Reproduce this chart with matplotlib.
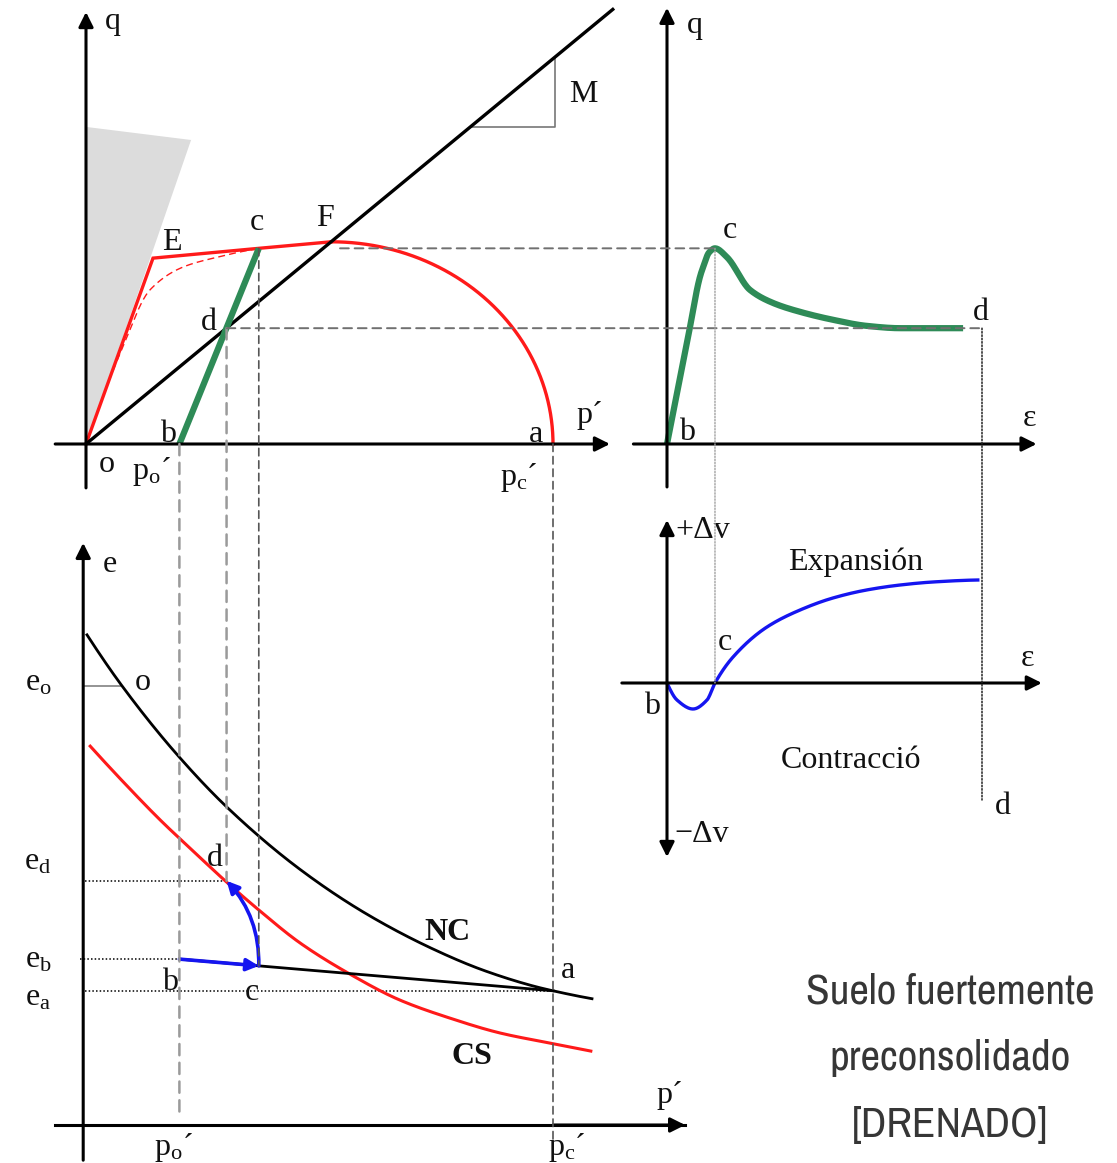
import os
import numpy as np
import matplotlib
matplotlib.use("Agg")
import matplotlib.pyplot as plt
from matplotlib.patches import Polygon, FancyArrowPatch, ConnectionPatch
from matplotlib import font_manager

# ---------------- data ----------------
# q - p' plane
M_csl = 0.825                      # slope of the critical state line
p_csl_end = 112.8
wedge_p = [0.0, 0.0, 22.5]         # tension cut-off zone
wedge_q = [0.0, 67.9, 65.1]
path_p = [0.0, 14.35, 37.0, 52.5]  # o -> E -> c -> F (Hvorslev + tension limit)
path_q = [0.0, 39.8, 41.9, 43.3]
ell_center, ell_a, ell_b = 52.5, 47.5, 43.3   # yield ellipse, ends at p'c
dash_p = [0.0, 7.6, 13.7, 20.8, 28.1, 37.0]   # dashed red curve o -> c
dash_q = [0.0, 20.1, 33.0, 37.9, 40.0, 41.9]
p_o, p_c = 20.0, 100.0
p_cpt, q_cpt = 37.0, 41.9          # peak point c
p_d, q_d = 30.1, 24.8              # critical state point d
tri_p = [82.2, 100.4]              # slope triangle for M

# q - strain plane
eps_q = [0.0, 2.0, 3.14, 3.46, 4.0, 4.57, 5.71, 7.9, 10.1, 12.67, 15.8, 19.0, 22.2, 28.2]
q_eps = [0.0, 22.8, 35.8, 38.0, 41.0, 41.9, 40.0, 33.0, 30.2, 28.3, 26.6, 25.3, 24.8, 24.8]
eps_c, eps_d = 4.57, 30.0

# volume change - strain plane
eps_v = [0.0, 0.95, 2.48, 3.81, 4.57, 6.29, 9.52, 12.67, 15.8, 19.0, 22.2, 25.3, 29.6]
dv = [0.0, -1.7, -2.6, -1.7, 0.0, 2.6, 5.6, 7.3, 8.5, 9.3, 9.8, 10.1, 10.3]

# e - p' plane
nc_p = [0.21, 7.71, 19.49, 30.41, 45.82, 60.17, 74.30, 85.01, 95.72, 100.0, 108.35]
nc_e = [1.114, 0.998, 0.842, 0.720, 0.581, 0.479, 0.400, 0.352, 0.316, 0.305, 0.287]
cs_p = [0.9, 8.4, 16.1, 22.9, 29.8, 37.3, 45.8, 56.5, 67.2, 77.9, 88.7, 99.4, 108.1]
cs_e = [0.861, 0.775, 0.691, 0.623, 0.555, 0.486, 0.414, 0.343, 0.284, 0.243, 0.209, 0.186, 0.168]
e_o, e_d, e_b, e_a = 0.998, 0.555, 0.377, 0.305
p_eo = 7.7

# ---------------- styling ----------------
RED = "#ff1a1a"
GREEN = "#2e8b57"
BLUE = "#1515f0"
SERIF = "Liberation Serif"
FS = 23

plt.rcParams["font.family"] = [SERIF, "DejaVu Serif"]
plt.rcParams["mathtext.fontset"] = "custom"
plt.rcParams["mathtext.rm"] = SERIF
plt.rcParams["mathtext.it"] = SERIF + ":italic"


def pchip(x, y, n=400):
    """Monotone piecewise cubic curve through the given points."""
    x = np.asarray(x, float)
    y = np.asarray(y, float)
    h = np.diff(x)
    d = np.diff(y) / h
    m = np.zeros_like(y)
    for k in range(1, len(x) - 1):
        if d[k - 1] * d[k] > 0:
            w1 = 2 * h[k] + h[k - 1]
            w2 = h[k] + 2 * h[k - 1]
            m[k] = (w1 + w2) / (w1 / d[k - 1] + w2 / d[k])

    def end(h0, h1, d0, d1):
        mm = ((2 * h0 + h1) * d0 - h0 * d1) / (h0 + h1)
        if np.sign(mm) != np.sign(d0):
            mm = 0.0
        elif np.sign(d0) != np.sign(d1) and abs(mm) > abs(3 * d0):
            mm = 3 * d0
        return mm

    m[0] = end(h[0], h[1], d[0], d[1])
    m[-1] = end(h[-1], h[-2], d[-1], d[-2])
    xs = np.linspace(x[0], x[-1], n)
    i = np.clip(np.searchsorted(x, xs) - 1, 0, len(h) - 1)
    t = (xs - x[i]) / h[i]
    ys = ((2 * t ** 3 - 3 * t ** 2 + 1) * y[i] + (t ** 3 - 2 * t ** 2 + t) * h[i] * m[i]
          + (-2 * t ** 3 + 3 * t ** 2) * y[i + 1] + (t ** 3 - t ** 2) * h[i] * m[i + 1])
    return xs, ys


W, H = 1117, 1163
fig = plt.figure(figsize=(W / 100, H / 100), dpi=100)


def panel(ox, sx, oy, sy):
    """Full-figure transparent axes whose origin sits at pixel (ox, oy)."""
    ax = fig.add_axes([0, 0, 1, 1])
    ax.set_xlim(-ox / sx, (W - ox) / sx)
    ax.set_ylim((oy - H) / sy, oy / sy)
    ax.axis("off")
    ax.patch.set_alpha(0)
    return ax


ax_qp = panel(86, 4.67, 444, 4.67)
ax_ep = panel(86, 4.67, 1125, 440)
ax_qe = panel(667, 10.5, 444, 4.67)
ax_ve = panel(667, 10.5, 683, 10)


def axis_arrow(ax, start, end, both=False):
    ax.add_patch(FancyArrowPatch(start, end, arrowstyle="<|-|>" if both else "-|>",
                                 mutation_scale=22, lw=2.2, color="k",
                                 shrinkA=0, shrinkB=0, zorder=5))


# ---- q - p' ----
ax_qp.add_patch(Polygon(np.column_stack([wedge_p, wedge_q]), closed=True,
                        facecolor="#dcdcdc", edgecolor="none", zorder=0))
axis_arrow(ax_qp, (0, -9.4), (0, 92.5))
axis_arrow(ax_qp, (-6.6, 0), (112.2, 0))
ax_qp.plot([0, p_csl_end], [0, M_csl * p_csl_end], color="k", lw=2.4, zorder=4)
ax_qp.plot([tri_p[0], tri_p[1], tri_p[1]],
           [M_csl * tri_p[0], M_csl * tri_p[0], M_csl * tri_p[1]],
           color="#777777", lw=1.2, zorder=3)
t = np.linspace(np.pi / 2, 0, 200)
ax_qp.plot(path_p, path_q, color=RED, lw=2.4, zorder=3, solid_joinstyle="miter")
ax_qp.plot(ell_center + ell_a * np.cos(t), ell_b * np.sin(t), color=RED, lw=2.4, zorder=3)
dx, dy = pchip(dash_p, dash_q)
ax_qp.plot(dx, dy, color=RED, lw=1.0, ls=(0, (5, 3)), zorder=3)
ax_qp.plot([p_o, p_cpt], [0, q_cpt], color=GREEN, lw=4.5, zorder=4,
           solid_capstyle="butt")

# ---- q - strain ----
axis_arrow(ax_qe, (0, -9.2), (0, 93.4))
axis_arrow(ax_qe, (-3.2, 0), (35.2, 0))
gx, gy = pchip(eps_q, q_eps)
ax_qe.plot(gx, gy, color=GREEN, lw=4.5, zorder=4, solid_capstyle="butt")

# ---- volume change - strain ----
axis_arrow(ax_ve, (0, -17.4), (0, 16.3), both=True)
axis_arrow(ax_ve, (-4.3, 0), (35.7, 0))
bx, by = pchip(eps_v, dv)
ax_ve.plot(bx, by, color=BLUE, lw=2.4, zorder=4)

# ---- e - p' ----
axis_arrow(ax_ep, (-0.6, -0.08), (-0.6, 1.323))
ax_ep.plot([-6.6, 128.3], [0, 0], color="k", lw=2.2, zorder=5)
axis_arrow(ax_ep, (100, 0), (128.3, 0))
nx, ny = pchip(nc_p, nc_e)
ax_ep.plot(nx, ny, color="k", lw=2.0, zorder=4)
cx, cy = pchip(cs_p, cs_e)
ax_ep.plot(cx, cy, color=RED, lw=2.2, zorder=4)
ax_ep.plot([p_o, p_c], [e_b, e_a], color="k", lw=2.0, zorder=4)
e_cpt = e_b + (p_cpt - p_o) / (p_c - p_o) * (e_a - e_b)
ax_ep.plot([-0.6, p_eo], [e_o, e_o], color="#777777", lw=1.1, zorder=3)
dot = (0, (1, 1.4))
ax_ep.plot([-0.3, p_d], [e_d, e_d], color="k", lw=1.1, ls=dot, zorder=3)
ax_ep.plot([-1.3, p_o], [e_b, e_b], color="k", lw=1.1, ls=dot, zorder=3)
ax_ep.plot([-0.3, p_c], [e_a, e_a], color="k", lw=1.1, ls=dot, zorder=3)
ax_ep.add_patch(FancyArrowPatch((p_o, e_b), (p_cpt, e_cpt), arrowstyle="-|>",
                                mutation_scale=18, lw=2.6, color=BLUE,
                                shrinkA=0, shrinkB=0, zorder=6))
ax_ep.add_patch(FancyArrowPatch((p_cpt, e_cpt), (p_d, e_d), arrowstyle="-|>",
                                connectionstyle="arc3,rad=0.2",
                                mutation_scale=18, lw=2.6, color=BLUE,
                                shrinkA=0, shrinkB=0, zorder=6))


# ---- projection lines between panels ----
def link(axA, xyA, axB, xyB, color, lw, ls):
    cp = ConnectionPatch(xyA=xyA, coordsA=axA.transData, xyB=xyB, coordsB=axB.transData,
                         color=color, lw=lw, linestyle=ls, zorder=2)
    fig.add_artist(cp)


dash_light = (0, (4.5, 3))
link(ax_qp, (p_o, 0), ax_ep, (p_o, 0.023), "#9a9a9a", 1.8, dash_light)
link(ax_qp, (p_d, q_d), ax_ep, (p_d, e_d), "#9a9a9a", 1.8, dash_light)
link(ax_qp, (p_cpt, q_cpt), ax_ep, (p_cpt, e_cpt), "#555555", 1.2, dash_light)
link(ax_qp, (p_c, 0), ax_ep, (p_c, -0.041), "#555555", 1.2, dash_light)
link(ax_qp, (54.4, q_cpt), ax_qe, (eps_c, q_cpt), "#707070", 1.4, dash_light)
link(ax_qp, (p_d, q_d), ax_qe, (eps_d, q_d), "#707070", 1.4, dash_light)
link(ax_qe, (eps_c, q_cpt), ax_ve, (eps_c, 0), "#a0a0a0", 1.0, (0, (1, 1.2)))
link(ax_qe, (eps_d, q_d), ax_ve, (eps_d, -11.7), "#222222", 1.1, (0, (1, 1.2)))

# ---------------- labels ----------------
cv = fig.add_axes([0, 0, 1, 1])
cv.set_xlim(0, W)
cv.set_ylim(H, 0)
cv.axis("off")
cv.patch.set_alpha(0)


def lab(x, y, s, **kw):
    kw.setdefault("fontsize", FS)
    cv.text(x, y, s, ha="center", va="center", color="#111111", **kw)


PR = "\u00b4"
# q - p'
lab(113, 22, "q")
lab(172, 242, "E")
lab(257, 222, "c")
lab(325, 218, "F")
lab(209, 323, "d")
lab(168, 435, "b")
lab(107, 465, "o")
lab(151, 471, r"$\mathrm{p_o}$" + PR)
lab(583, 95, "M")
lab(590, 415, "p" + PR)
lab(536, 435, "a")
lab(519, 478, r"$\mathrm{p_c}$" + PR)
# q - strain
lab(695, 26, "q")
lab(730, 230, "c")
lab(981, 312, "d")
lab(687, 433, "b")
lab(1029, 418, "\u03b5")
# volume change - strain
lab(703, 531, "+\u0394v")
lab(856, 562, "Expansi\u00f3n")
lab(725, 643, "c")
lab(1028, 658, "\u03b5")
lab(652, 707, "b")
lab(851, 761, "Contracci\u00f3")
lab(1003, 806, "d")
lab(702, 834, "\u2212\u0394v")
# e - p'
lab(110, 565, "e")
lab(38, 683, r"$\mathrm{e_o}$")
lab(143, 682, "o")
lab(38, 862, r"$\mathrm{e_d}$")
lab(215, 858, "d")
lab(38, 960, r"$\mathrm{e_b}$")
lab(170, 983, "b")
lab(38, 998, r"$\mathrm{e_a}$")
lab(252, 993, "c")
lab(173, 1147, r"$\mathrm{p_o}$" + PR)
lab(447, 933, "NC", fontweight="bold")
lab(568, 970, "a")
lab(472, 1057, "CS", fontweight="bold")
lab(670, 1096, "p" + PR)
lab(567, 1148, r"$\mathrm{p_c}$" + PR)


def condensed_font():
    """A proportional, narrow, regular-weight sans face for the caption."""
    rank = {"extra-condensed": 0, "ultra-condensed": 1, "condensed": 2,
            "semi-condensed": 3}
    best, best_key = None, None
    for f in font_manager.fontManager.ttflist:
        base = os.path.basename(f.fname)
        if f.style != "normal" or any(s in base for s in ("Mono", "Serif", "Code", "Italic")):
            continue
        st = f.stretch if f.stretch in rank else None
        if st is None:
            if "ExtraCondensed" in base:
                st = "extra-condensed"
            elif "SemiCondensed" in base:
                st = "semi-condensed"
            elif "Condensed" in base or "Narrow" in base:
                st = "condensed"
            else:
                continue
        w = f.weight if isinstance(f.weight, int) else font_manager.weight_dict.get(f.weight, 400)
        key = (rank[st], abs(w - 400), base)
        if best_key is None or key < best_key:
            best, best_key = f, key
    if best is None:
        return font_manager.FontProperties(family="DejaVu Sans", stretch="condensed")
    return font_manager.FontProperties(fname=best.fname)


title_fp = condensed_font()
title_fp.set_size(31)
for yb, line in [(1003, "Suelo fuertemente"), (1070, "preconsolidado"), (1137, "[DRENADO]")]:
    cv.text(950, yb, line, ha="center", va="baseline", color="#363636",
            fontproperties=title_fp)

fig.savefig("out.png", dpi=100)
